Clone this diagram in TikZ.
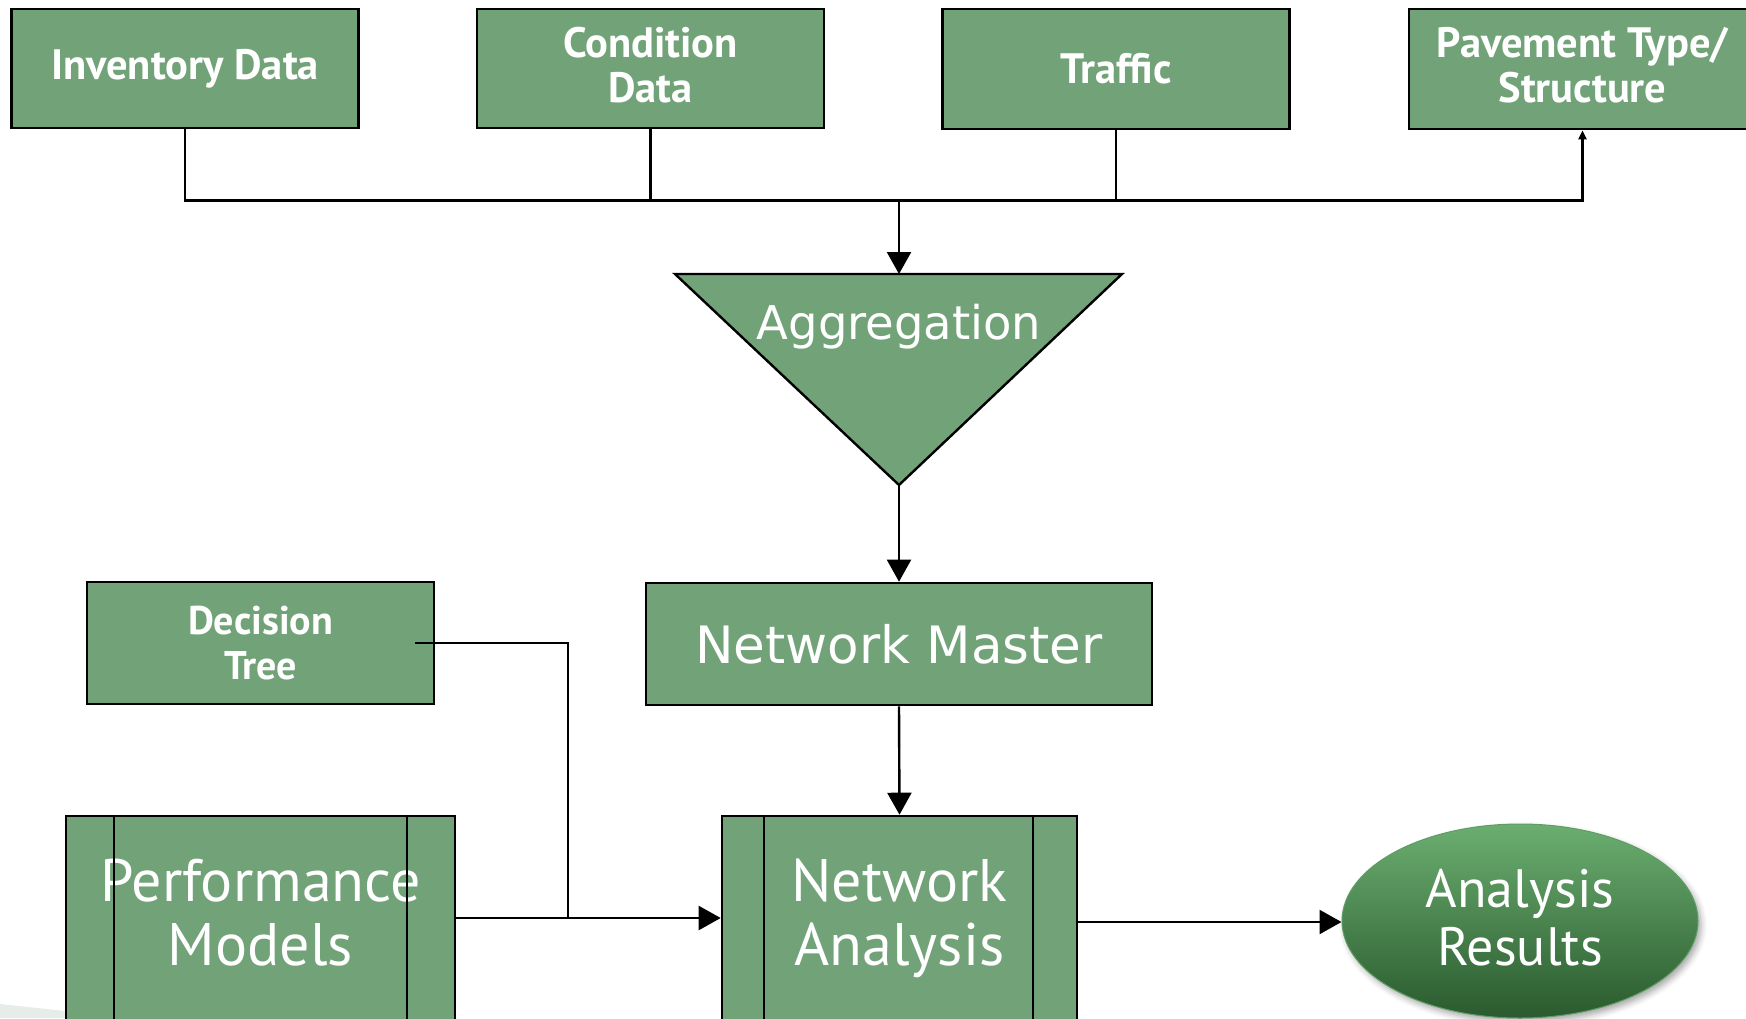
\documentclass[tikz,border=0pt]{standalone}
\usepackage{fontspec}
\setmainfont{PT Sans}
\newfontfamily\grandefont{DejaVu Sans}
\usetikzlibrary{arrows.meta,shapes.geometric,shadows.blur}

\definecolor{boxgreen}{HTML}{72A378}
\definecolor{resTop}{HTML}{6BAE70}
\definecolor{resBottom}{HTML}{2A5A2E}
\definecolor{resEdge}{HTML}{5E9C63}
\definecolor{swoosh}{HTML}{E6ECE7}

\tikzset{
  box/.style={draw=black, line width=2.6pt, fill=boxgreen, text=white,
    align=center, inner sep=0pt},
  topbox/.style={box, minimum width=347pt, minimum height=119pt,
    font=\bfseries\fontsize{42.5}{45}\selectfont},
  midbox/.style={box, minimum height=122pt},
  procbox/.style={box, minimum height=204pt},
  proctext/.style={text=white, align=center, font=\fontsize{60}{64}\selectfont},
  wire/.style={draw=black, line width=2.4pt},
  bigtip/.style={-{Triangle[length=22pt,width=24pt]}},
  smalltip/.style={-{Triangle[length=9pt,width=8pt]}},
}

\begin{document}
\begin{tikzpicture}[x=1pt,y=-1pt]
  \useasboundingbox (0,0) rectangle (1746,1018);
  \clip (0,0) rectangle (1746,1018);

  % faint backdrop swoosh in the lower left corner
  \fill[swoosh] (0,1004) -- (130,1018) -- (0,1018) -- cycle;

  % data sources (two-line labels sit a little above centre)
  \node[topbox] (inv)  at (185,68.5)    {Inventory Data};
  \node[topbox] (cond) at (650.5,68.5)  {};
  \node[text=white, align=center, font=\bfseries\fontsize{42.5}{45}\selectfont] (condText) at (650.5,65) {Condition\\Data};
  \node[topbox, minimum height=120pt] (traf) at (1116,69)   {Traffic};
  \node[topbox, minimum height=120pt] (pav)  at (1582.5,69) {};
  \node[text=white, align=center, font=\bfseries\fontsize{42.5}{45}\selectfont] (pavText) at (1582.5,65) {Pavement Type/\\Structure};

  % collecting bus
  \coordinate (bus) at (899,200.5);
  \draw[wire, smalltip] (inv.south) -- (inv.south |- bus) -| (pav.south);
  \draw[wire] (cond.south) -- (cond.south |- bus);
  \draw[wire] (traf.south) -- (traf.south |- bus);

  % aggregation funnel
  \coordinate (aggL)   at (675,274);
  \coordinate (aggR)   at (1122,274);
  \coordinate (aggTop) at (899,274);
  \coordinate (aggTip) at (899,485);
  \draw[line width=2.4pt, fill=boxgreen, line join=miter] (aggL) -- (aggR) -- (aggTip) -- cycle;
  \node[text=white, font=\grandefont\fontsize{46.5}{50}\selectfont] (agg) at (899,327) {Aggregation};
  \draw[wire, bigtip] (bus) -- (aggTop);

  % master and decision tree
  \node[midbox, minimum width=506pt, font=\grandefont\fontsize{51.5}{55}\selectfont] (nm) at (899,644) {Network Master};
  \node[midbox, minimum width=347pt, font=\bfseries\fontsize{40}{45}\selectfont] (dec) at (260.5,643) {Decision\\Tree};
  \draw[wire, line width=2pt, bigtip] (aggTip) -- (nm.north);

  % processes
  \node[procbox, minimum width=389pt] (perf) at (260.5,918) {};
  \node[proctext] (perfText) at (260.5,913) {Performance\\Models};
  \draw[line width=2pt] ([xshift=49pt]perf.north west) -- ([xshift=49pt]perf.south west);
  \draw[line width=2pt] ([xshift=-49pt]perf.north east) -- ([xshift=-49pt]perf.south east);

  \node[procbox, minimum width=355pt] (na) at (899.5,918) {};
  \node[proctext] (naText) at (899.5,918) {Network\\Analysis};
  \draw[line width=2pt] ([xshift=43pt]na.north west) -- ([xshift=43pt]na.south west);
  \draw[line width=2pt] ([xshift=-45pt]na.north east) -- ([xshift=-45pt]na.south east);

  \draw[wire, bigtip] (nm.south) -- (na.north);

  % inputs to the network analysis
  \coordinate (dtStart) at ([xshift=-20pt]dec.east);
  \coordinate (dtJoin) at (568,918);
  \draw[wire, line width=2pt] (dtStart) -| (dtJoin);
  \draw[wire, bigtip] (perf.east) -- (na.west);

  % results
  \node[ellipse, minimum width=356pt, minimum height=194pt, draw=resEdge, line width=1pt,
        top color=resTop, bottom color=resBottom, text=white, align=center,
        blur shadow={shadow xshift=3pt, shadow yshift=-4pt, shadow blur radius=6pt, shadow opacity=35},
        font=\fontsize{54}{58}\selectfont] (res) at (1520,921) {};
  \node[text=white, align=center, font=\fontsize{54}{58}\selectfont] (resText) at (1520,918) {Analysis\\Results};
  \coordinate (naOut) at ([yshift=-4pt]na.east);
  \draw[wire, bigtip] (naOut) -- (naOut -| res.west);
\end{tikzpicture}
\end{document}
